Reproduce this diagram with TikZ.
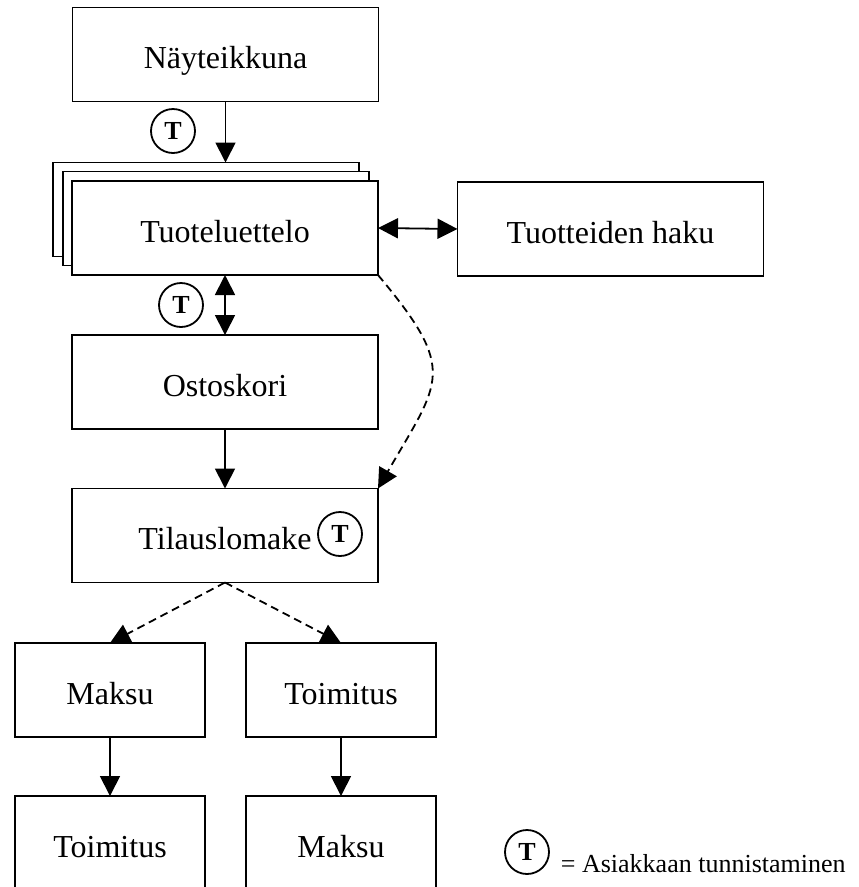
\documentclass[tikz,border=0pt]{standalone}
\usepackage{fontspec}
\setmainfont{Liberation Serif}
\usetikzlibrary{arrows.meta}
\begin{document}
\begin{tikzpicture}[x=1pt,y=-1pt,
  line width=1.8pt,
  box/.style={draw, fill=white, minimum width=306pt, minimum height=94pt,
    inner sep=0pt, outer sep=0pt, font=\fontsize{32}{38}\selectfont,
    text height=30pt, text depth=2pt},
  smallbox/.style={box, minimum width=190pt},
  tmark/.style={draw, circle, minimum size=44pt, inner sep=0pt,
    font=\fontsize{26}{30}\selectfont\bfseries},
  flow/.style={-{Triangle[length=20pt,width=20pt]}},
  twoway/.style={{Triangle[length=20pt,width=20pt]}-{Triangle[length=20pt,width=20pt]}},
  optional/.style={flow, dash pattern=on 8pt off 5pt}
]
\useasboundingbox (0,0) rectangle (859,887);

% main column
\node[box] (nay) at (225.5,54.5) {Näyteikkuna};
\node[box] (back) at (206,209.5) {};
\node[box] (mid) at (216,218.5) {};
\node[box] (front) at (225,228) {Tuoteluettelo};
\node[box] (haku) at (610.5,229) {Tuotteiden haku};
\node[box] (osto) at (225,382) {Ostoskori};
\node[box] (tilaus) at (225,535.5) {Tilauslomake};

% delivery and payment branches
\node[smallbox] (m1) at (110,690) {Maksu};
\node[smallbox] (t1) at (341,690) {Toimitus};
\node[smallbox] (t2) at (110,843) {Toimitus};
\node[smallbox] (m2) at (341,843) {Maksu};

% identification marks
\node[tmark] (id1) at (173,131) {T};
\node[tmark] (id2) at (181,305) {T};
\node[tmark] (id3) at (340,534) {T};
\node[tmark] (id4) at (527,852) {T};
\node[anchor=base west, inner sep=0pt, font=\fontsize{26}{30}\selectfont]
  (legend) at (560,872) {= Asiakkaan tunnistaminen};

% connectors
\draw[flow] (nay.south) -- (nay.south |- back.north);
\draw[twoway] (front.east) -- (haku.west);
\draw[twoway] (front.south) -- (osto.north);
\draw[flow] (osto.south) -- (tilaus.north);
\draw[optional] (front.south east) to[out=-50, in=60, looseness=1.5] (tilaus.north east);
\draw[optional] (tilaus.south) -- (m1.north);
\draw[optional] (tilaus.south) -- (t1.north);
\draw[flow] (m1.south) -- (t2.north);
\draw[flow] (t1.south) -- (m2.north);
\end{tikzpicture}
\end{document}
